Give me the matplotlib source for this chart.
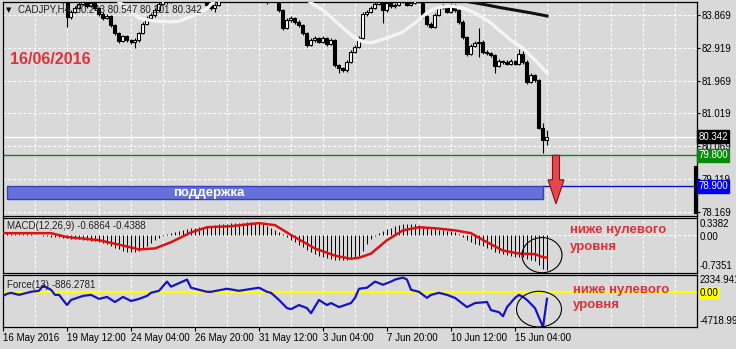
import numpy as np
import matplotlib
matplotlib.use("Agg")
import matplotlib.pyplot as plt
import matplotlib.transforms as mtransforms
from matplotlib.patches import Ellipse, Rectangle, FancyArrow

plt.rcParams['font.family'] = ['Liberation Sans', 'DejaVu Sans']

# ---- CADJPY H4 bars ----
opens = [84.40, 84.48, 84.57, 84.65, 84.59, 84.51, 84.57, 84.68, 84.62, 84.54,
         84.45, 84.54, 84.59, 84.48, 84.39, 84.33, 84.25, 83.81, 83.96, 84.07,
         84.19, 84.25, 84.13, 84.22, 84.07, 83.90, 83.78, 83.84, 83.58, 83.35,
         83.12, 83.26, 83.14, 83.09, 83.14, 83.35, 83.61, 83.78, 83.87, 84.01,
         84.19, 84.36, 84.25, 84.45, 84.57, 84.65, 84.59, 84.71, 84.62, 84.54,
         84.45, 84.30, 84.16, 84.07, 84.16, 84.36, 84.48, 84.59, 84.68, 84.74,
         84.65, 84.77, 84.68, 84.59, 84.54, 84.45, 84.39, 84.30, 84.39, 84.36,
         84.01, 83.49, 83.72, 83.78, 83.67, 83.58, 83.35, 83.00, 83.14, 83.20,
         83.09, 83.20, 83.03, 83.14, 82.42, 82.33, 82.27, 82.51, 82.80, 82.94,
         83.20, 83.90, 83.96, 84.07, 84.19, 84.25, 84.01, 84.22, 84.13, 84.16,
         84.25, 84.30, 84.16, 84.22, 84.36, 84.25, 83.84, 83.61, 83.52, 83.87,
         84.07, 84.13, 83.96, 84.16, 84.01, 83.67, 83.23, 82.74, 82.97, 83.06,
         83.09, 82.80, 82.77, 82.71, 82.39, 82.53, 82.51, 82.45, 82.53, 82.45,
         82.74, 82.51, 81.93, 82.13, 81.98, 80.59, 80.243]
closes = [84.48, 84.57, 84.65, 84.59, 84.51, 84.57, 84.68, 84.62, 84.54, 84.45,
          84.54, 84.59, 84.48, 84.39, 84.33, 84.25, 83.81, 83.96, 84.07, 84.19,
          84.25, 84.13, 84.22, 84.07, 83.90, 83.78, 83.84, 83.58, 83.35, 83.12,
          83.26, 83.14, 83.09, 83.14, 83.35, 83.61, 83.78, 83.87, 84.01, 84.19,
          84.36, 84.25, 84.45, 84.57, 84.65, 84.59, 84.71, 84.62, 84.54, 84.45,
          84.30, 84.16, 84.07, 84.16, 84.36, 84.48, 84.59, 84.68, 84.74, 84.65,
          84.77, 84.68, 84.59, 84.54, 84.45, 84.39, 84.30, 84.39, 84.36, 84.01,
          83.49, 83.72, 83.78, 83.67, 83.58, 83.35, 83.00, 83.14, 83.20, 83.09,
          83.20, 83.03, 83.14, 82.42, 82.33, 82.27, 82.51, 82.80, 82.94, 83.20,
          83.90, 83.96, 84.07, 84.19, 84.25, 84.01, 84.22, 84.13, 84.16, 84.25,
          84.30, 84.16, 84.22, 84.36, 84.25, 83.84, 83.61, 83.52, 83.87, 84.07,
          84.13, 83.96, 84.16, 84.01, 83.67, 83.23, 82.74, 82.97, 83.06, 83.09,
          82.80, 82.77, 82.71, 82.39, 82.53, 82.51, 82.45, 82.53, 82.45, 82.74,
          82.51, 81.93, 82.13, 81.98, 80.59, 80.243, 80.342]
highs = [84.53, 84.62, 84.71, 84.70, 84.63, 84.61, 84.73, 84.72, 84.66, 84.58,
         84.59, 84.64, 84.62, 84.51, 84.43, 84.37, 84.30, 84.01, 84.12, 84.24,
         84.31, 84.29, 84.27, 84.26, 84.11, 83.95, 83.89, 83.88, 83.62, 83.39,
         83.30, 83.29, 83.18, 83.19, 83.39, 83.66, 83.83, 83.93, 84.06, 84.24,
         84.41, 84.40, 84.50, 84.62, 84.70, 84.69, 84.76, 84.75, 84.66, 84.58,
         84.49, 84.34, 84.20, 84.21, 84.41, 84.53, 84.64, 84.73, 84.79, 84.78,
         84.82, 84.81, 84.72, 84.63, 84.58, 84.49, 84.43, 84.44, 84.43, 84.40,
         84.05, 83.78, 83.84, 83.82, 83.71, 83.62, 83.39, 83.19, 83.25, 83.24,
         83.25, 83.24, 83.19, 83.18, 82.46, 82.37, 82.56, 82.85, 82.99, 83.26,
         83.95, 84.02, 84.12, 84.24, 84.31, 84.29, 84.27, 84.26, 84.21, 84.30,
         84.35, 84.34, 84.27, 84.41, 84.40, 84.29, 83.88, 83.66, 83.92, 84.12,
         84.18, 84.17, 84.21, 84.20, 84.05, 83.71, 83.27, 83.02, 83.11, 83.49,
         83.13, 82.84, 82.81, 82.75, 82.58, 82.57, 82.55, 82.58, 82.57, 82.88,
         82.83, 82.55, 82.18, 82.17, 82.02, 80.75, 80.547]
lows = [84.36, 84.44, 84.52, 84.55, 84.46, 84.47, 84.54, 84.58, 84.50, 84.41,
        84.42, 84.50, 84.44, 84.35, 84.29, 84.20, 83.52, 83.75, 83.92, 84.03,
        84.15, 84.08, 84.09, 84.02, 83.85, 83.73, 83.74, 83.52, 83.30, 83.07,
        83.08, 83.10, 83.04, 82.91, 83.10, 83.31, 83.57, 83.73, 83.82, 83.97,
        84.15, 84.19, 84.21, 84.41, 84.52, 84.55, 84.55, 84.58, 84.50, 84.41,
        84.26, 84.12, 84.01, 83.96, 84.12, 84.32, 84.44, 84.55, 84.64, 84.61,
        84.61, 84.64, 84.55, 84.50, 84.41, 84.35, 84.20, 84.26, 84.31, 83.96,
        83.44, 83.45, 83.68, 83.62, 83.53, 83.30, 82.94, 82.96, 83.10, 83.05,
        83.05, 82.98, 82.99, 82.37, 82.19, 82.22, 82.23, 82.47, 82.76, 82.90,
        83.16, 83.85, 83.92, 84.03, 84.15, 83.64, 83.97, 84.08, 84.07, 84.12,
        84.21, 84.12, 84.12, 84.18, 84.21, 83.79, 83.55, 83.49, 83.48, 83.83,
        84.03, 83.92, 83.92, 83.96, 83.62, 83.18, 82.69, 82.70, 82.93, 82.65,
        82.75, 82.72, 82.66, 82.19, 82.35, 82.46, 82.41, 82.41, 82.41, 82.41,
        82.46, 81.88, 81.89, 81.94, 80.55, 79.87, 80.101]

# moving averages (bar index, price)
ma_fast_bars = [28, 32, 34, 38, 42, 44, 48, 51, 53, 56, 62, 70, 75, 77, 80, 82, 85,
                88, 90, 92, 96, 100, 103, 106, 108, 112, 115, 118, 122, 124, 127,
                130, 133, 136]
ma_fast_vals = [84.35, 83.96, 83.78, 83.69, 83.67, 83.69, 83.87, 84.05, 84.30, 84.60,
                84.80, 84.70, 84.45, 84.22, 84.01, 83.81, 83.49, 83.20, 83.09, 83.06,
                83.20, 83.38, 83.64, 83.93, 84.07, 84.13, 84.07, 83.93, 83.64, 83.43,
                83.14, 82.91, 82.56, 82.19]
ma_slow_bars = [112, 116, 120, 124, 128, 132, 136]
ma_slow_vals = [84.35, 84.26, 84.18, 84.09, 84.01, 83.93, 83.84]

# MACD(12,26,9)
macd_hist = [0.03, 0.03, 0.02, 0.02, 0.02, 0.01, 0.02, 0.01, 0.00, 0.00,
             -0.01, -0.02, -0.03, -0.03, -0.04, -0.05, -0.06, -0.07, -0.08, -0.08,
             -0.09, -0.10, -0.11, -0.12, -0.13, -0.15, -0.18, -0.21, -0.25, -0.28,
             -0.30, -0.32, -0.33, -0.33, -0.30, -0.26, -0.21, -0.16, -0.10, -0.05,
             -0.02, 0.02, 0.04, 0.05, 0.07, 0.09, 0.11, 0.13, 0.14, 0.15,
             0.16, 0.17, 0.18, 0.20, 0.21, 0.22, 0.22, 0.23, 0.23, 0.24,
             0.24, 0.25, 0.25, 0.24, 0.23, 0.21, 0.17, 0.13, 0.10, 0.06,
             0.01, -0.04, -0.09, -0.14, -0.19, -0.24, -0.29, -0.33, -0.36, -0.40,
             -0.43, -0.45, -0.47, -0.48, -0.49, -0.49, -0.48, -0.47, -0.45, -0.40,
             -0.30, -0.18, -0.08, -0.02, 0.03, 0.07, 0.11, 0.14, 0.17, 0.19,
             0.21, 0.22, 0.22, 0.21, 0.19, 0.17, 0.14, 0.12, 0.11, 0.10,
             0.09, 0.08, 0.07, 0.05, 0.02, -0.03, -0.10, -0.14, -0.17, -0.19,
             -0.22, -0.25, -0.28, -0.32, -0.35, -0.37, -0.39, -0.41, -0.43, -0.42,
             -0.43, -0.47, -0.48, -0.50, -0.58, -0.65, -0.6864]
signal_bars = [0, 12, 16, 24, 32, 34, 38, 42, 47, 51, 57, 64, 68, 72, 78, 83, 87, 89,
               92, 96, 100, 104, 108, 113, 117, 121, 125, 129, 133, 135, 136]
signal_vals = [0.035, 0.035, -0.04, -0.10, -0.24, -0.28, -0.26, -0.14, 0.05, 0.15,
               0.17, 0.23, 0.19, 0.0, -0.26, -0.40, -0.46, -0.44, -0.36, -0.10,
               0.09, 0.15, 0.13, 0.09, 0.035, -0.14, -0.30, -0.36, -0.37, -0.43, -0.4388]

# Force(13)
force_bars = [0, 1, 2, 4, 6, 7, 9, 10, 12, 13, 14, 16, 17, 20, 22, 24, 26, 28, 30, 32,
              34, 36, 37, 39, 41, 42, 46, 47, 49, 51, 52, 56, 59, 64, 66, 67, 69, 71,
              72, 74, 76, 77, 79, 81, 82, 84, 87, 88, 89, 91, 93, 95, 97, 98, 100, 101,
              102, 104, 106, 107, 109, 111, 113, 116, 118, 121, 122, 124, 125, 126,
              128, 129, 130, 131, 133, 135, 136]
force_vals = [-500, -220, -80, -360, -80, 55, 190, 885, 330, -360, -360, -1740, -1050,
              -500, -360, -910, -640, -1330, -640, -1190, -910, -500, -80, 190, 1440,
              750, 1710, 610, 330, 55, 55, 470, 190, 610, 55, -80, -1050, -2160, -2300,
              -1740, -2160, -2850, -1050, -1740, -1470, -2020, -1470, -770, 470, 610,
              1440, 1020, 1440, 1710, 1990, 1710, 330, 55, -770, -360, -80, -360, -770,
              -2020, -1470, -1330, -2430, -2710, -3260, -2020, -770, -360, -640, -1050,
              -2160, -4718.99, -886.2781]

price_ticks = [83.869, 82.919, 81.969, 81.019, 80.069, 79.119, 78.169]
date_ticks = [0, 16, 32, 48, 64, 80, 96, 112, 128]
date_labels = ['16 May 2016', '19 May 12:00', '24 May 04:00', '26 May 20:00',
               '31 May 12:00', '3 Jun 04:00', '7 Jun 20:00', '10 Jun 12:00', '15 Jun 04:00']

bid = 80.342
level_green = 79.800
level_blue = 78.900
support_low = 78.54
macd_range = (-0.7351, 0.3382)
force_range = (-4718.99, 2334.941)

BG = '#d9d9d9'
W, H = 736, 349
fig = plt.figure(figsize=(W / 100, H / 100), dpi=100, facecolor=BG)


def panel(top, bottom):
    a = fig.add_axes([3 / W, 1 - bottom / H, 694 / W, (bottom - top) / H])
    a.set_facecolor(BG)
    a.set_xlim(0, 173.5)
    for s in a.spines.values():
        s.set_color('black')
        s.set_linewidth(0.9)
    a.tick_params(left=False, labelleft=False, bottom=False, labelbottom=False)
    for g in range(8, 172, 8):
        a.axvline(g, color='white', lw=0.8, ls=(0, (2.5, 2)), zorder=0.5)
    return a


ax = panel(2, 215.5)
ax_macd = panel(217.5, 273)
ax_force = panel(275, 327)

# ---- main price panel ----
ax.set_ylim(78.054, 84.246)
for p in price_ticks:
    ax.axhline(p, color='white', lw=0.8, ls=(0, (2.5, 2)), zorder=0.5)
ax.set_yticks(price_ticks)
ax.set_yticklabels([f'{p:.3f}' for p in price_ticks])
ax.tick_params(axis='y', right=True, labelright=True, length=2, pad=1.5, labelsize=7)

idx = np.arange(len(closes))
o = np.array(opens)
c = np.array(closes)
up = c >= o
ax.vlines(idx, lows, highs, color='black', lw=0.8, zorder=3)
ax.bar(idx[up], (c - o)[up], bottom=o[up], width=0.75, color='white',
       edgecolor='black', lw=0.8, zorder=4)
ax.bar(idx[~up], (o - c)[~up], bottom=c[~up], width=0.75, color='black',
       edgecolor='black', lw=0.8, zorder=4)

ax.plot(ma_fast_bars, ma_fast_vals, color='#f4f4f4', lw=2.4, zorder=5)
ax.plot(ma_slow_bars, ma_slow_vals, color='#111111', lw=2.2, zorder=5)

ax.axhline(bid, color='white', lw=1, zorder=2)
ax.axhline(level_green, color='#1e7d1e', lw=1, zorder=2)
ax.plot([135, 173.5], [level_blue, level_blue], color='#1010c8', lw=1, zorder=2)

ax.add_patch(Rectangle((1.1, support_low), 134 - 0.1, level_blue - support_low,
                       fc='#6570d8', ec='#3440c0', lw=1, zorder=6))
ax.text(51.5, (level_blue + support_low) / 2, 'поддержка', color='white',
        fontsize=9.5, fontweight='bold', ha='center', va='center', zorder=7)

ax.add_patch(FancyArrow(138.25, level_green, 0, -(level_green - 78.39), width=1.75,
                        head_width=4.0, head_length=0.70, length_includes_head=True,
                        fc='#e4474f', ec='#8a1010', lw=0.8, zorder=7))

blend = mtransforms.blended_transform_factory(ax.transAxes, ax.transData)
ax.plot([0.9985, 0.9985], [79.43, 78.16], color='black', lw=3, transform=blend,
        clip_on=False, zorder=8)
for val, fc in [(bid, 'black'), (level_green, '#0a8a0a'), (level_blue, '#0000f0')]:
    ax.text(1.002, val, f'{val:.3f}', transform=blend, ha='left', va='center',
            color='white', fontsize=7, clip_on=False, zorder=20,
            bbox=dict(boxstyle='square,pad=0.14', fc=fc, ec=fc))

# ---- MACD panel ----
ax_macd.set_ylim(*macd_range)
ax_macd.axhline(0, color='white', lw=0.8, ls=(0, (2.5, 2)), zorder=0.5)
ax_macd.vlines(idx, 0, macd_hist, color='black', lw=0.7, zorder=3)
ax_macd.plot(signal_bars, signal_vals, color='#e01010', lw=1.8, zorder=4)
ax_macd.add_patch(Ellipse((134.75, -0.39), 10, 0.68, fill=False, ec='black', lw=0.8, zorder=5))

# ---- Force panel ----
ax_force.set_ylim(*force_range)
ax_force.axhline(0, color='#ffff00', lw=1.6, zorder=2)
ax_force.plot(force_bars, force_vals, color='#1414c8', lw=1.6, zorder=3)
ax_force.add_patch(Ellipse((134, -2296), 11.25, 4840, fill=False, ec='black', lw=0.8, zorder=5))
ax_force.set_xticks(date_ticks)
ax_force.set_xticklabels(date_labels, ha='left')
ax_force.tick_params(axis='x', bottom=True, labelbottom=True, length=3, pad=1.5, labelsize=7)


def ftext(x, y, s, **kw):
    fig.text(x / W, 1 - y / H, s, **kw)


ftext(6, 10, '▼', fontsize=5, va='center', family='DejaVu Sans')
ftext(18, 10, 'CADJPY,H4  80.243 80.547 80.101 80.342', fontsize=7, va='center', color='#202020')
ftext(10, 59, '16/06/2016', fontsize=11.5, fontweight='bold', color='#e0303a', va='center')
ftext(7, 226, 'MACD(12,26,9) -0.6864 -0.4388', fontsize=7, va='center', color='#202020')
ftext(7, 285, 'Force(13) -886.2781', fontsize=7, va='center', color='#202020')

ftext(570, 230, 'ниже нулевого', fontsize=9.5, fontweight='bold', color='#e0303a', va='center')
ftext(570, 247, 'уровня', fontsize=9.5, fontweight='bold', color='#e0303a', va='center')
ftext(573, 290, 'ниже нулевого', fontsize=9.5, fontweight='bold', color='#e0303a', va='center')
ftext(573, 305, 'уровня', fontsize=9.5, fontweight='bold', color='#e0303a', va='center')

ftext(700, 224, '0.3382', fontsize=7, va='center')
ftext(700, 237, '0.00', fontsize=7, va='center')
ftext(700, 266, '-0.7351', fontsize=7, va='center')
ftext(700, 280, '2334.941', fontsize=7, va='center')
ftext(700, 293, '0.00', fontsize=7, va='center',
      bbox=dict(boxstyle='square,pad=0.1', fc='#ffff00', ec='none'))
ftext(700, 320.5, '-4718.99', fontsize=7, va='center')

fig.savefig('out.png', dpi=100, facecolor=BG)
